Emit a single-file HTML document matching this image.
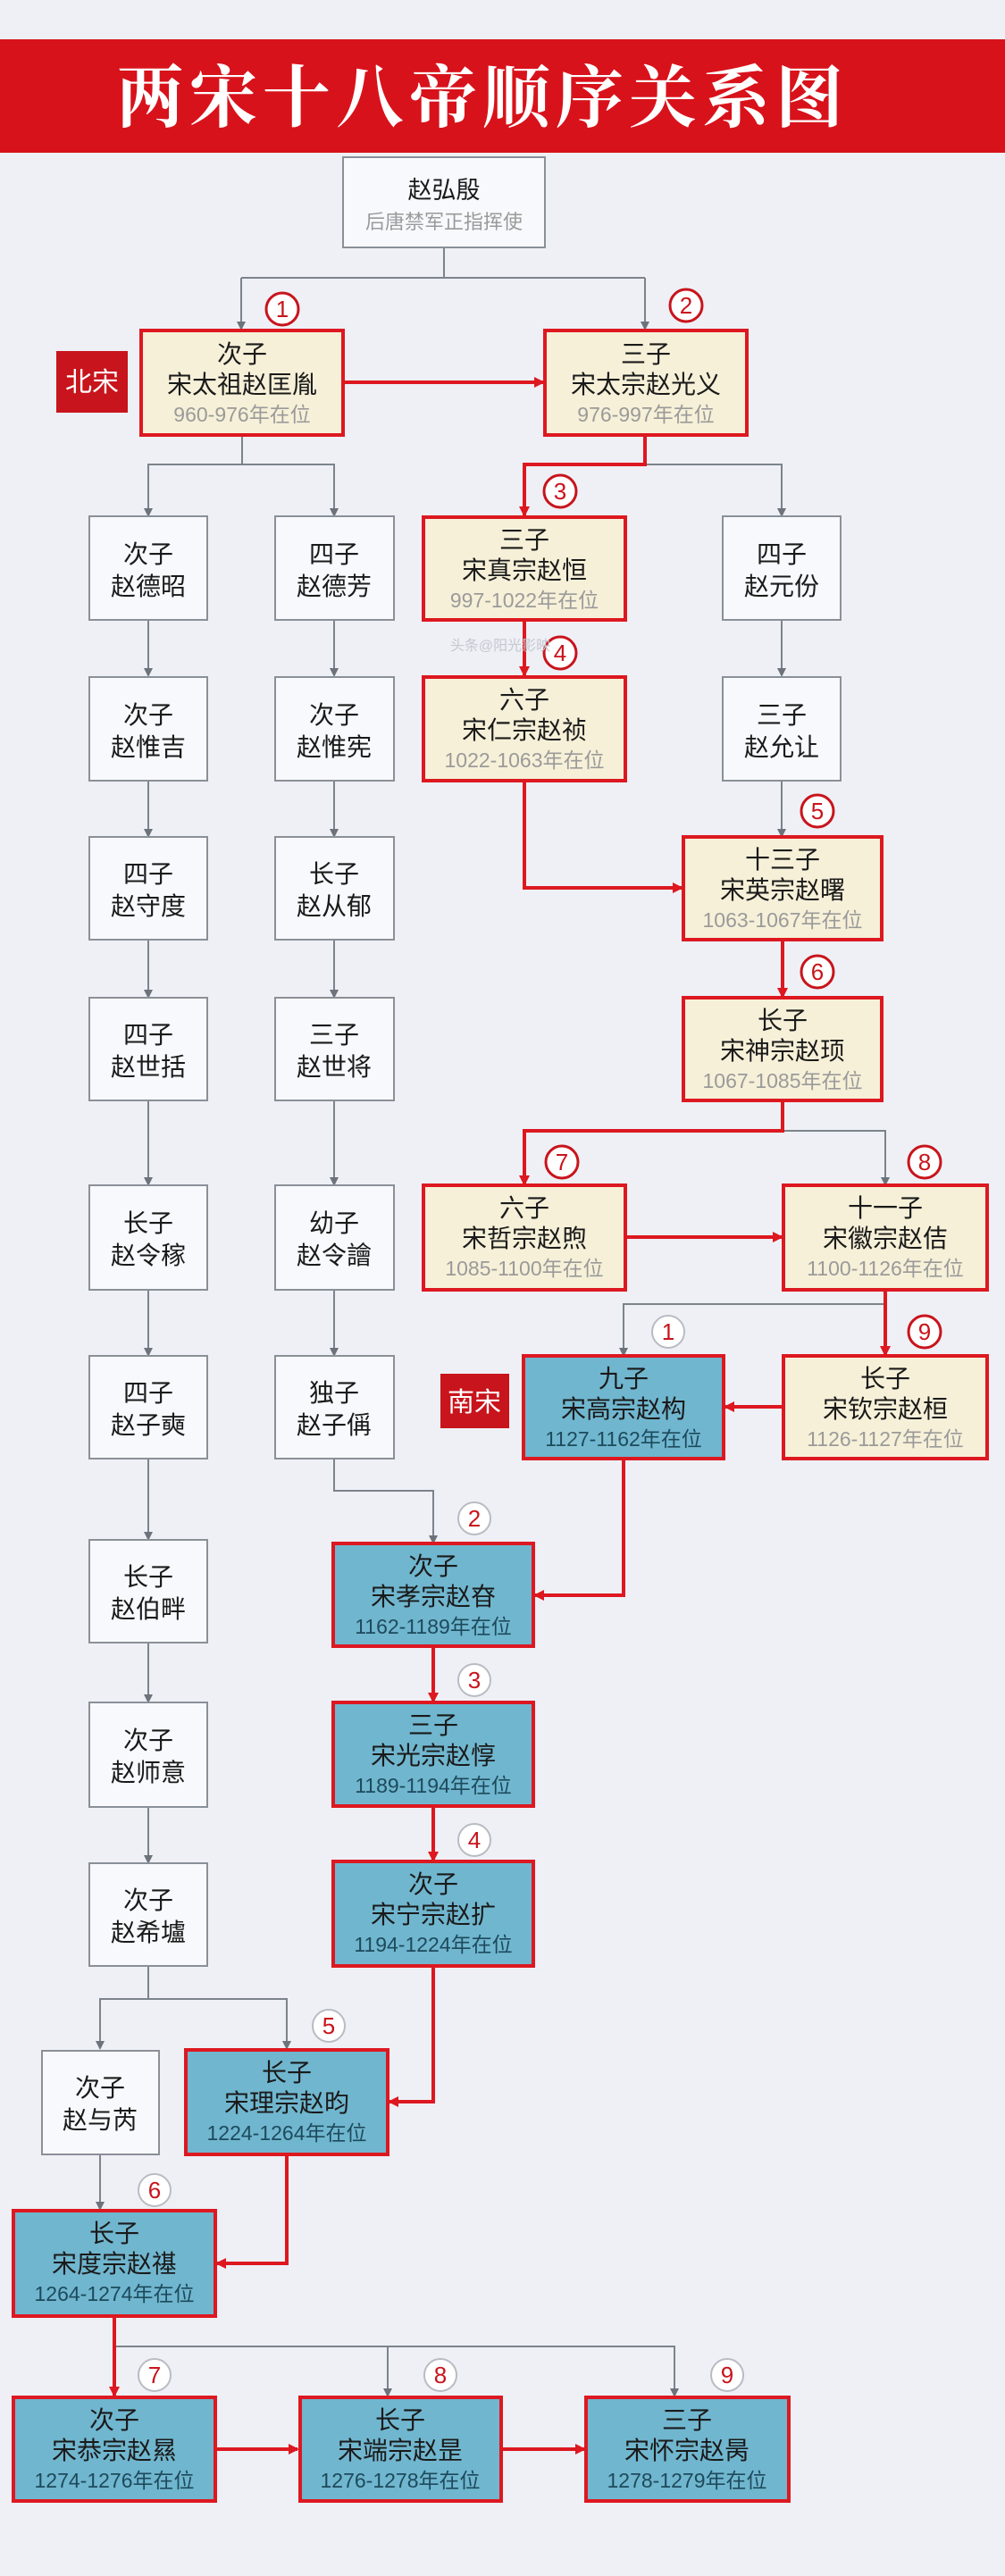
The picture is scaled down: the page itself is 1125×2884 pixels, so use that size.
<!DOCTYPE html>
<html><head><meta charset="utf-8"><style>
html,body{margin:0;padding:0;background:#eef0f6;}
svg{display:block;}
text{font-family:"Liberation Sans","Noto Sans CJK SC",sans-serif;text-anchor:middle;}
.t{font-size:28px;fill:#1a1a1a;}
.y{font-size:23px;fill:#9a9a9a;}
.yb{font-size:23px;fill:#1d4a5c;}
.g{fill:#f8f9fc;stroke:#8a9098;stroke-width:2;}
.r{fill:#f6f0d8;stroke:#dd1820;stroke-width:4;}
.b{fill:#70b6cf;stroke:#dd1820;stroke-width:4;}
.lg{stroke:#7c838b;stroke-width:2;fill:none;}
.lr{stroke:#dd1820;stroke-width:4;fill:none;}
.cr{fill:#fff;stroke:#c8141c;stroke-width:3;}
.cg{fill:#fff;stroke:#b8bcc2;stroke-width:2;}
.n{font-size:26px;fill:#c8141c;}
</style></head><body>
<svg width="1125" height="2884" viewBox="0 0 1125 2884" xmlns="http://www.w3.org/2000/svg">
<defs>
<marker id="ag" markerWidth="10" markerHeight="10" refX="8" refY="5" orient="auto" markerUnits="userSpaceOnUse"><path d="M0,0 L10,5 L0,10 z" fill="#6c737b"/></marker>
<marker id="ar" markerWidth="12" markerHeight="12" refX="10" refY="6" orient="auto" markerUnits="userSpaceOnUse"><path d="M0,0 L12,6 L0,12 z" fill="#dd1820"/></marker>
</defs>
<rect x="0" y="0" width="1125" height="2884" fill="#eef0f6"/>
<rect x="0" y="44" width="1125" height="127" fill="#d8121b"/>
<text x="540" y="136" style="font-size:76px;font-weight:bold;fill:#fff;letter-spacing:6px;font-family:'Noto Serif CJK SC','Noto Sans CJK SC',serif;">两宋十八帝顺序关系图</text>

<g class="lg">
<path d="M497,277 V311 M270,311 H722"/>
<path d="M270,311 V368" marker-end="url(#ag)"/>
<path d="M722,311 V368" marker-end="url(#ag)"/>
<path d="M271,487 V520 H166 V577" marker-end="url(#ag)"/>
<path d="M271,520 H374 V577" marker-end="url(#ag)"/>
<path d="M722,520 H875 V577" marker-end="url(#ag)"/>
<path d="M166,694 V756" marker-end="url(#ag)"/>
<path d="M166,874 V936" marker-end="url(#ag)"/>
<path d="M166,1052 V1116" marker-end="url(#ag)"/>
<path d="M166,1232 V1326" marker-end="url(#ag)"/>
<path d="M166,1444 V1517" marker-end="url(#ag)"/>
<path d="M166,1633 V1723" marker-end="url(#ag)"/>
<path d="M166,1839 V1905" marker-end="url(#ag)"/>
<path d="M166,2023 V2085" marker-end="url(#ag)"/>
<path d="M374,694 V756" marker-end="url(#ag)"/>
<path d="M374,874 V936" marker-end="url(#ag)"/>
<path d="M374,1052 V1116" marker-end="url(#ag)"/>
<path d="M374,1232 V1326" marker-end="url(#ag)"/>
<path d="M374,1444 V1517" marker-end="url(#ag)"/>
<path d="M875,694 V756" marker-end="url(#ag)"/>
<path d="M875,874 V936" marker-end="url(#ag)"/>
<path d="M876,1266 H991 V1326" marker-end="url(#ag)"/>
<path d="M991,1460 H698 V1517" marker-end="url(#ag)"/>
<path d="M374,1633 V1669 H485 V1727" marker-end="url(#ag)"/>
<path d="M166,2201 V2238 H112 V2293" marker-end="url(#ag)"/>
<path d="M166,2238 H321 V2293" marker-end="url(#ag)"/>
<path d="M112,2412 V2473" marker-end="url(#ag)"/>
<path d="M128,2627 H755 V2682" marker-end="url(#ag)"/>
<path d="M434,2627 V2682" marker-end="url(#ag)"/>
</g>
<g class="lr">
<path d="M384,428 H608" marker-end="url(#ar)"/>
<path d="M722,487 V520 H587 V577" marker-end="url(#ar)"/>
<path d="M587,694 V756" marker-end="url(#ar)"/>
<path d="M587,874 V994 H763" marker-end="url(#ar)"/>
<path d="M876,1052 V1116" marker-end="url(#ar)"/>
<path d="M876,1232 V1266 H587 V1326" marker-end="url(#ar)"/>
<path d="M700,1385 H875" marker-end="url(#ar)"/>
<path d="M991,1444 V1517" marker-end="url(#ar)"/>
<path d="M877,1575 H812" marker-end="url(#ar)"/>
<path d="M698,1633 V1786 H599" marker-end="url(#ar)"/>
<path d="M485,1843 V1905" marker-end="url(#ar)"/>
<path d="M485,2023 V2083" marker-end="url(#ar)"/>
<path d="M485,2201 V2353 H436" marker-end="url(#ar)"/>
<path d="M321,2412 V2534 H243" marker-end="url(#ar)"/>
<path d="M128,2593 V2682" marker-end="url(#ar)"/>
<path d="M241,2742 H333" marker-end="url(#ar)"/>
<path d="M561,2742 H654" marker-end="url(#ar)"/>
</g>

<rect class="g" x="384" y="176" width="226" height="101"/>
<text class="t" x="497" y="222" style="font-size:27px">赵弘殷</text>
<text class="y" x="497" y="256" style="font-size:22px">后唐禁军正指挥使</text>

<rect x="63" y="393" width="80" height="69" fill="#c8141c"/>
<text x="103" y="438" style="font-size:30px;fill:#fff">北宋</text>
<rect x="493" y="1538" width="77" height="61" fill="#c8141c"/>
<text x="531" y="1580" style="font-size:30px;fill:#fff">南宋</text>

<g>
<rect class="r" x="158" y="370" width="226" height="117"/>
<text class="t" x="271" y="406">次子</text><text class="t" x="271" y="440">宋太祖赵匡胤</text><text class="y" x="271" y="472">960-976年在位</text>
<rect class="r" x="610" y="370" width="226" height="117"/>
<text class="t" x="723" y="406">三子</text><text class="t" x="723" y="440">宋太宗赵光义</text><text class="y" x="723" y="472">976-997年在位</text>
<rect class="r" x="474" y="579" width="226" height="115"/>
<text class="t" x="587" y="614">三子</text><text class="t" x="587" y="648">宋真宗赵恒</text><text class="y" x="587" y="680">997-1022年在位</text>
<rect class="r" x="474" y="758" width="226" height="116"/>
<text class="t" x="587" y="793">六子</text><text class="t" x="587" y="827">宋仁宗赵祯</text><text class="y" x="587" y="859">1022-1063年在位</text>
<rect class="r" x="765" y="937" width="222" height="115"/>
<text class="t" x="876" y="972">十三子</text><text class="t" x="876" y="1006">宋英宗赵曙</text><text class="y" x="876" y="1038">1063-1067年在位</text>
<rect class="r" x="765" y="1117" width="222" height="115"/>
<text class="t" x="876" y="1152">长子</text><text class="t" x="876" y="1186">宋神宗赵顼</text><text class="y" x="876" y="1218">1067-1085年在位</text>
<rect class="r" x="474" y="1327" width="226" height="117"/>
<text class="t" x="587" y="1362">六子</text><text class="t" x="587" y="1396">宋哲宗赵煦</text><text class="y" x="587" y="1428">1085-1100年在位</text>
<rect class="r" x="877" y="1327" width="228" height="117"/>
<text class="t" x="991" y="1362">十一子</text><text class="t" x="991" y="1396">宋徽宗赵佶</text><text class="y" x="991" y="1428">1100-1126年在位</text>
<rect class="r" x="877" y="1518" width="228" height="115"/>
<text class="t" x="991" y="1553">长子</text><text class="t" x="991" y="1587">宋钦宗赵桓</text><text class="y" x="991" y="1619">1126-1127年在位</text>
</g>

<g>
<rect class="b" x="586" y="1518" width="224" height="115"/>
<text class="t" x="698" y="1553">九子</text><text class="t" x="698" y="1587">宋高宗赵构</text><text class="yb" x="698" y="1619">1127-1162年在位</text>
<rect class="b" x="373" y="1728" width="224" height="115"/>
<text class="t" x="485" y="1763">次子</text><text class="t" x="485" y="1797">宋孝宗赵昚</text><text class="yb" x="485" y="1829">1162-1189年在位</text>
<rect class="b" x="373" y="1906" width="224" height="116"/>
<text class="t" x="485" y="1941">三子</text><text class="t" x="485" y="1975">宋光宗赵惇</text><text class="yb" x="485" y="2007">1189-1194年在位</text>
<rect class="b" x="373" y="2084" width="224" height="117"/>
<text class="t" x="485" y="2119">次子</text><text class="t" x="485" y="2153">宋宁宗赵扩</text><text class="yb" x="485" y="2185">1194-1224年在位</text>
<rect class="b" x="208" y="2295" width="226" height="117"/>
<text class="t" x="321" y="2330">长子</text><text class="t" x="321" y="2364">宋理宗赵昀</text><text class="yb" x="321" y="2396">1224-1264年在位</text>
<rect class="b" x="15" y="2475" width="226" height="118"/>
<text class="t" x="128" y="2510">长子</text><text class="t" x="128" y="2544">宋度宗赵禥</text><text class="yb" x="128" y="2576">1264-1274年在位</text>
<rect class="b" x="15" y="2684" width="226" height="116"/>
<text class="t" x="128" y="2719">次子</text><text class="t" x="128" y="2753">宋恭宗赵㬎</text><text class="yb" x="128" y="2785">1274-1276年在位</text>
<rect class="b" x="336" y="2684" width="225" height="116"/>
<text class="t" x="448" y="2719">长子</text><text class="t" x="448" y="2753">宋端宗赵昰</text><text class="yb" x="448" y="2785">1276-1278年在位</text>
<rect class="b" x="656" y="2684" width="227" height="116"/>
<text class="t" x="769" y="2719">三子</text><text class="t" x="769" y="2753">宋怀宗赵昺</text><text class="yb" x="769" y="2785">1278-1279年在位</text>
</g>

<g>
<rect class="g" x="100" y="578" width="132" height="116"/><text class="t" x="166" y="630">次子</text><text class="t" x="166" y="666">赵德昭</text>
<rect class="g" x="308" y="578" width="133" height="116"/><text class="t" x="374" y="630">四子</text><text class="t" x="374" y="666">赵德芳</text>
<rect class="g" x="809" y="578" width="132" height="116"/><text class="t" x="875" y="630">四子</text><text class="t" x="875" y="666">赵元份</text>
<rect class="g" x="100" y="758" width="132" height="116"/><text class="t" x="166" y="810">次子</text><text class="t" x="166" y="846">赵惟吉</text>
<rect class="g" x="308" y="758" width="133" height="116"/><text class="t" x="374" y="810">次子</text><text class="t" x="374" y="846">赵惟宪</text>
<rect class="g" x="809" y="758" width="132" height="116"/><text class="t" x="875" y="810">三子</text><text class="t" x="875" y="846">赵允让</text>
<rect class="g" x="100" y="937" width="132" height="115"/><text class="t" x="166" y="988">四子</text><text class="t" x="166" y="1024">赵守度</text>
<rect class="g" x="308" y="937" width="133" height="115"/><text class="t" x="374" y="988">长子</text><text class="t" x="374" y="1024">赵从郁</text>
<rect class="g" x="100" y="1117" width="132" height="115"/><text class="t" x="166" y="1168">四子</text><text class="t" x="166" y="1204">赵世括</text>
<rect class="g" x="308" y="1117" width="133" height="115"/><text class="t" x="374" y="1168">三子</text><text class="t" x="374" y="1204">赵世将</text>
<rect class="g" x="100" y="1327" width="132" height="117"/><text class="t" x="166" y="1379">长子</text><text class="t" x="166" y="1415">赵令稼</text>
<rect class="g" x="308" y="1327" width="133" height="117"/><text class="t" x="374" y="1379">幼子</text><text class="t" x="374" y="1415">赵令譮</text>
<rect class="g" x="100" y="1518" width="132" height="115"/><text class="t" x="166" y="1569">四子</text><text class="t" x="166" y="1605">赵子奭</text>
<rect class="g" x="308" y="1518" width="133" height="115"/><text class="t" x="374" y="1569">独子</text><text class="t" x="374" y="1605">赵子偁</text>
<rect class="g" x="100" y="1724" width="132" height="115"/><text class="t" x="166" y="1775">长子</text><text class="t" x="166" y="1811">赵伯畔</text>
<rect class="g" x="100" y="1906" width="132" height="117"/><text class="t" x="166" y="1958">次子</text><text class="t" x="166" y="1994">赵师意</text>
<rect class="g" x="100" y="2086" width="132" height="115"/><text class="t" x="166" y="2137">次子</text><text class="t" x="166" y="2173">赵希壚</text>
<rect class="g" x="47" y="2296" width="131" height="116"/><text class="t" x="112" y="2347">次子</text><text class="t" x="112" y="2383">赵与芮</text>
</g>

<g>
<circle class="cr" cx="316" cy="346" r="18"/><text class="n" x="316" y="355">1</text>
<circle class="cr" cx="768" cy="342" r="18"/><text class="n" x="768" y="351">2</text>
<circle class="cr" cx="627" cy="550" r="18"/><text class="n" x="627" y="559">3</text>
<circle class="cr" cx="627" cy="731" r="18"/><text class="n" x="627" y="740">4</text>
<circle class="cr" cx="915" cy="908" r="18"/><text class="n" x="915" y="917">5</text>
<circle class="cr" cx="915" cy="1088" r="18"/><text class="n" x="915" y="1097">6</text>
<circle class="cr" cx="629" cy="1301" r="18"/><text class="n" x="629" y="1310">7</text>
<circle class="cr" cx="1035" cy="1301" r="18"/><text class="n" x="1035" y="1310">8</text>
<circle class="cr" cx="1035" cy="1491" r="18"/><text class="n" x="1035" y="1500">9</text>
</g>
<g>
<circle class="cg" cx="748" cy="1491" r="18"/><text class="n" x="748" y="1500">1</text>
<circle class="cg" cx="531" cy="1700" r="18"/><text class="n" x="531" y="1709">2</text>
<circle class="cg" cx="531" cy="1881" r="18"/><text class="n" x="531" y="1890">3</text>
<circle class="cg" cx="531" cy="2060" r="18"/><text class="n" x="531" y="2069">4</text>
<circle class="cg" cx="368" cy="2268" r="18"/><text class="n" x="368" y="2277">5</text>
<circle class="cg" cx="173" cy="2452" r="18"/><text class="n" x="173" y="2461">6</text>
<circle class="cg" cx="173" cy="2659" r="18"/><text class="n" x="173" y="2668">7</text>
<circle class="cg" cx="493" cy="2659" r="18"/><text class="n" x="493" y="2668">8</text>
<circle class="cg" cx="814" cy="2659" r="18"/><text class="n" x="814" y="2668">9</text>
</g>
<text x="560" y="728" style="font-size:16px;fill:#c5c8cf">头条@阳光影映</text>
</svg>
</body></html>
